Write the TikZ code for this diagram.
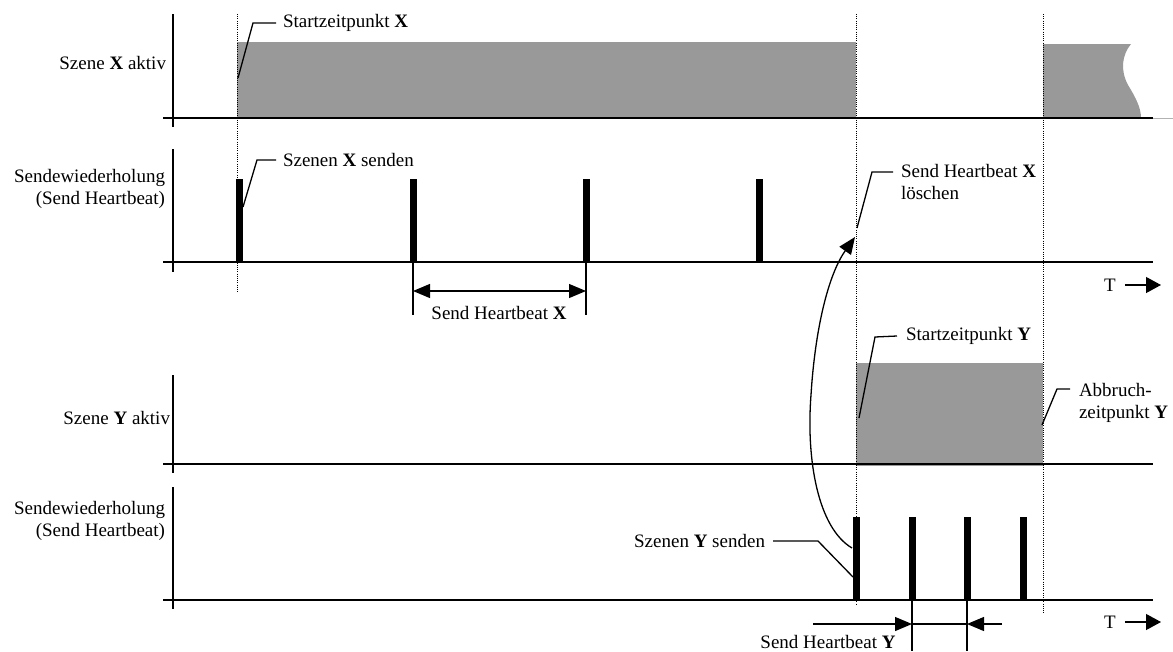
\documentclass[tikz,border=0pt]{standalone}
\usepackage{fontspec}
\setmainfont{Liberation Serif}
\usetikzlibrary{arrows.meta}
\definecolor{activegray}{RGB}{153,153,153}
\begin{document}
\begin{tikzpicture}[x=1pt,y=-1pt,
  txt/.style={inner sep=0pt, outer sep=0pt, font=\fontsize{19}{22}\selectfont},
  axisline/.style={line width=2pt},
  guide/.style={line width=1pt, dash pattern=on 1pt off 1.2pt},
  leader/.style={line width=1.3pt},
  dimline/.style={line width=1.2pt},
  bigtip/.style={-{Triangle[length=17pt,width=14pt]}},
  ttip/.style={-{Triangle[length=15pt,width=16pt]}},
  pulse/.style={fill=black},
  active/.style={fill=activegray}
]
\useasboundingbox (0,0) rectangle (1173,651);

% ---------- active phases ----------
\fill[active] (237,42) rectangle (856,118);
\fill[active] (1043,44) -- (1131,44) .. controls (1122,55) and (1120,70) .. (1128,85)
   .. controls (1136,98) and (1141,108) .. (1141,118) -- (1043,118) -- cycle;
\fill[active] (856,363) rectangle (1043,466);

% ---------- time marks ----------
\coordinate (gX)  at (237,14);
\coordinate (gX2) at (856,14);
\coordinate (gE)  at (1043,14);
\draw[guide] (gX) -- (237,292);
\draw[guide] (gX2) -- (856,604);
\draw[guide] (gE) -- (1043,614);

% ---------- axes ----------
\draw[axisline] (173,14) -- (173,127);
\draw[axisline] (163,118) -- (1153,118);
\draw[line width=1pt, black!30] (1153,118) -- (1173,118);
\draw[axisline] (173,149) -- (173,272);
\draw[axisline] (163,262) -- (1153,262);
\draw[axisline] (173,375) -- (173,473);
\draw[axisline] (163,464) -- (1153,464);
\draw[axisline] (173,487) -- (173,609);
\draw[axisline] (163,600) -- (1153,600);

% ---------- pulses X ----------
\coordinate (px1) at (239,262);
\coordinate (px2) at (413,262);
\coordinate (px3) at (586,262);
\coordinate (px4) at (759,262);
\foreach \p in {px1,px2,px3,px4}
  \fill[pulse] ([xshift=-3.5pt]\p) rectangle ++(7,-83);

% ---------- pulses Y ----------
\coordinate (py1) at (856.5,600);
\coordinate (py2) at (912,600);
\coordinate (py3) at (967,600);
\coordinate (py4) at (1023,600);
\foreach \p in {py1,py2,py3,py4}
  \fill[pulse] ([xshift=-3.5pt]\p) rectangle ++(7,-83);

% ---------- row labels ----------
\node[txt, anchor=east] (rowXa) at (166,63) {Szene \textbf{X} aktiv};
\node[txt, anchor=east, align=right] (rowXs) at (165,189) {Sendewiederholung\\(Send Heartbeat)};
\node[txt, anchor=east] (rowYa) at (170,418) {Szene \textbf{Y} aktiv};
\node[txt, anchor=east, align=right] (rowYs) at (165,521) {Sendewiederholung\\(Send Heartbeat)};

% ---------- annotations ----------
\node[txt, anchor=west] (startX) at (283,23) {Startzeitpunkt \textbf{X}};
\coordinate (startXp) at (238,78);
\draw[leader] (startXp) -- (253,23) -- ([xshift=-7pt]startX.west);

\node[txt, anchor=west] (sendX) at (283,160) {Szenen \textbf{X} senden};
\coordinate (sendXp) at (243,207);
\draw[leader] (sendXp) -- (257,160) -- ([xshift=-7pt]sendX.west);

\node[txt, anchor=west, align=left] (delX) at (901,182) {Send Heartbeat \textbf{X}\\löschen};
\coordinate (delXp) at (857,228);
\draw[leader] (delXp) -- (872,172) -- ([xshift=-8pt]delX.west |- 0,172);

\node[txt, anchor=west] (startY) at (906,336) {Startzeitpunkt \textbf{Y}};
\coordinate (startYp) at (859,418);
\draw[leader] (startYp) -- (875,337) -- ([xshift=-9pt]startY.west);

\node[txt, anchor=west, align=left] (stopY) at (1079,403) {Abbruch-\\zeitpunkt \textbf{Y}};
\coordinate (stopYp) at (1042,425);
\draw[leader] (stopYp) -- (1057,389) -- ([xshift=-9pt]stopY.west |- 0,389);

\node[txt, anchor=east] (sendY) at (765,541) {Szenen \textbf{Y} senden};
\coordinate (sendYp) at (853,577);
\draw[leader] ([xshift=8pt]sendY.east) -- (818,541) -- (sendYp);

% ---------- cancellation of heartbeat X ----------
\coordinate (cancelFrom) at (852,548);
\coordinate (cancelTo) at (855,237);
\draw[line width=1.3pt, bigtip] (cancelFrom) .. controls (818,528) and (806,460) .. (811,395)
   .. controls (815,330) and (828,275) .. (cancelTo);

% ---------- heartbeat interval X ----------
\draw[dimline] (px2) -- ++(0,53);
\draw[dimline] (px3) -- ++(0,53);
\coordinate (hxa) at (413,291);
\coordinate (hxb) at (586,291);
\draw[dimline, {Triangle[length=17pt,width=14pt]}-{Triangle[length=17pt,width=14pt]}] (hxa) -- (hxb);
\node[txt] (hbX) at (499,313) {Send Heartbeat \textbf{X}};

% ---------- heartbeat interval Y ----------
\draw[dimline] (py2) -- (912,651);
\draw[dimline] (py3) -- (967,651);
\coordinate (hya) at (912,624);
\coordinate (hyb) at (967,624);
\coordinate (hyl) at (813,624);
\coordinate (hyr) at (1002,624);
\draw[dimline, bigtip] (hyl) -- (hya);
\draw[dimline] (hya) -- (hyb);
\draw[dimline, bigtip] (hyr) -- (hyb);
\node[txt] (hbY) at (828,642) {Send Heartbeat \textbf{Y}};

% ---------- time arrows ----------
\node[txt] (t1) at (1110,285) {T};
\coordinate (t1e) at (1161,285);
\draw[dimline, ttip] ([xshift=9pt]t1.east) -- (t1e);
\node[txt] (t2) at (1110,622) {T};
\coordinate (t2e) at (1161,622);
\draw[dimline, ttip] ([xshift=9pt]t2.east) -- (t2e);
\end{tikzpicture}
\end{document}
